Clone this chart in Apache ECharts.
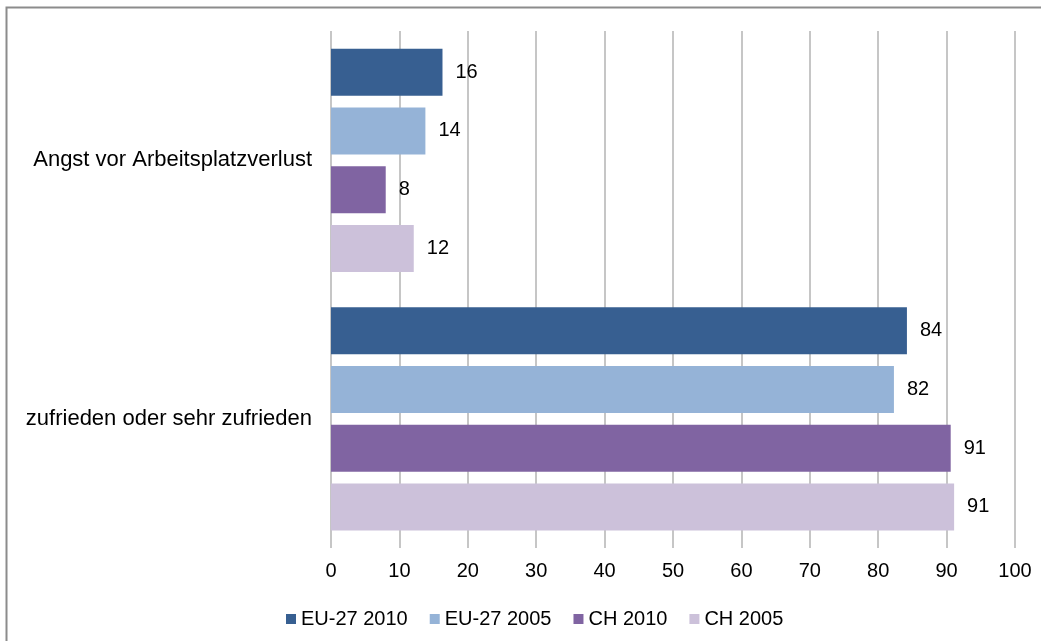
<!DOCTYPE html>
<html>
<head>
<meta charset="utf-8">
<script src="https://cdn.jsdelivr.net/npm/echarts@6/dist/echarts.min.js"></script>
<style>
  html, body { margin: 0; padding: 0; background: #fff; }
  #chart { width: 1041px; height: 641px; }
</style>
</head>
<body>
<div id="chart"></div>
<script>
const categories = ['Angst vor Arbeitsplatzverlust', 'zufrieden oder sehr zufrieden'];
const seriesNames = ['EU-27 2010', 'EU-27 2005', 'CH 2010', 'CH 2005'];
const eu2010 = [16.3, 84.2];
const eu2005 = [13.8, 82.3];
const ch2010 = [8.0, 90.6];
const ch2005 = [12.1, 91.1];
const colors = ['#375f91', '#95b3d7', '#8064a2', '#ccc1da'];

const font = 'Liberation Sans, Arial, sans-serif';
const chart = echarts.init(document.getElementById('chart'));

const makeSeries = (name, data, color) => ({
  name: name,
  type: 'bar',
  data: data,
  barWidth: 47,
  barGap: '25%',
  itemStyle: { color: color },
  label: {
    show: true,
    position: 'right',
    distance: 13,
    color: '#000',
    fontFamily: font,
    fontSize: 20,
    formatter: (p) => Math.round(p.value)
  }
});

const option = {
  animation: false,
  backgroundColor: '#fff',
  color: colors,
  graphic: [{
    type: 'rect',
    shape: { x: 6.5, y: 7.5, width: 1200, height: 800 },
    style: { fill: 'none', stroke: '#8c8c8c', lineWidth: 2 },
    silent: true
  }],
  grid: { left: 331, right: 26, top: 31, bottom: 93 },
  legend: {
    left: 281,
    top: 604,
    itemWidth: 10,
    itemHeight: 10,
    itemGap: 22,
    icon: 'rect',
    textStyle: { fontFamily: font, fontSize: 20, color: '#000' },
    data: seriesNames
  },
  xAxis: {
    type: 'value',
    min: 0,
    max: 100,
    interval: 10,
    axisLine: { show: false },
    axisTick: { show: false },
    splitLine: { show: true, lineStyle: { color: '#b3b3b3', width: 1.5 } },
    axisLabel: { color: '#000', fontFamily: font, fontSize: 20, margin: 13 }
  },
  yAxis: {
    type: 'category',
    inverse: true,
    data: categories,
    axisLine: { show: false },
    axisTick: { show: false },
    axisLabel: { color: '#000', fontFamily: font, fontSize: 22, margin: 19 }
  },
  series: [
    makeSeries(seriesNames[0], eu2010, colors[0]),
    makeSeries(seriesNames[1], eu2005, colors[1]),
    makeSeries(seriesNames[2], ch2010, colors[2]),
    makeSeries(seriesNames[3], ch2005, colors[3])
  ]
};

chart.setOption(option);
</script>
</body>
</html>
